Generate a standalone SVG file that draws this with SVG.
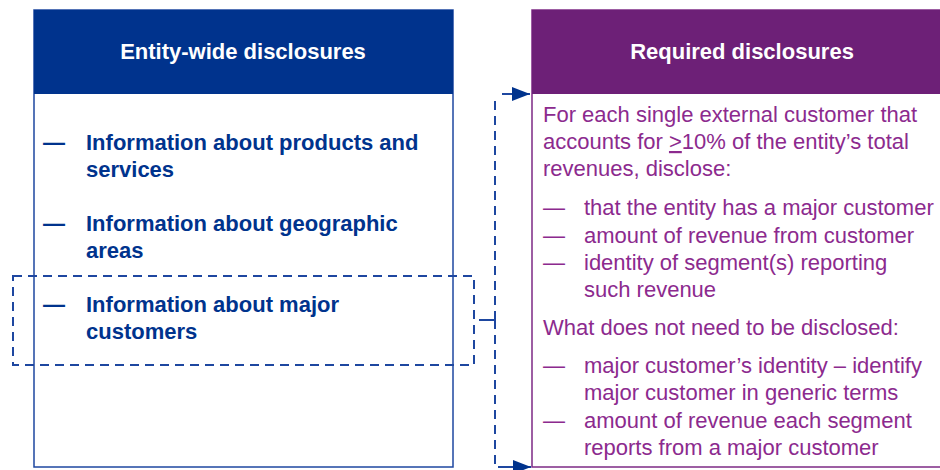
<svg xmlns="http://www.w3.org/2000/svg" width="940" height="470" viewBox="0 0 940 470">
<defs>
<style>
.hdr{font-family:"Liberation Sans",Arial,sans-serif;font-size:22px;font-weight:bold;fill:#ffffff;text-anchor:middle}
.lt{font-family:"Liberation Sans",Arial,sans-serif;font-size:22px;font-weight:bold;fill:#00338D}
.rt{font-family:"Liberation Sans",Arial,sans-serif;font-size:22px;fill:#8C2A8E}
.conn{fill:none;stroke:#1E47A0;stroke-width:2;stroke-dasharray:9 6}
.solid{fill:none;stroke:#1E47A0;stroke-width:2}
</style>
<marker id="ah" viewBox="0 0 18 14" refX="18" refY="7" markerWidth="9" markerHeight="7" markerUnits="strokeWidth" orient="auto">
<path d="M0,0 L18,7 L0,14 z" fill="#00338D"/>
</marker>
</defs>
<rect width="940" height="470" fill="#ffffff"/>
<g id="entity-wide">
<rect x="34" y="10" width="419" height="457" fill="#ffffff" stroke="#1E47A0" stroke-width="1.5"/>
<rect x="34" y="10" width="419" height="84" fill="#00338D"/>
<text class="hdr" x="243" y="59">Entity-wide disclosures</text>
<text class="lt" x="43" y="150">—</text>
<text class="lt" x="86" y="150">Information about products and</text>
<text class="lt" x="86" y="177">services</text>
<text class="lt" x="43" y="231">—</text>
<text class="lt" x="86" y="231">Information about geographic</text>
<text class="lt" x="86" y="258">areas</text>
<text class="lt" x="43" y="312">—</text>
<text class="lt" x="86" y="312">Information about major</text>
<text class="lt" x="86" y="339">customers</text>
</g>
<g id="required">
<rect x="532" y="10" width="420" height="457" fill="#ffffff" stroke="#7D2A85" stroke-width="1.5"/>
<rect x="532" y="10" width="420" height="84" fill="#6D2077"/>
<text class="hdr" x="742" y="59">Required disclosures</text>
<text class="rt" x="543" y="122">For each single external customer that</text>
<text class="rt" x="543" y="149">accounts for <tspan text-decoration="underline">&gt;</tspan>10% of the entity’s total</text>
<text class="rt" x="543" y="176">revenues, disclose:</text>
<text class="rt" x="543" y="215">—</text>
<text class="rt" x="584" y="215">that the entity has a major customer</text>
<text class="rt" x="543" y="243">—</text>
<text class="rt" x="584" y="243">amount of revenue from customer</text>
<text class="rt" x="543" y="270">—</text>
<text class="rt" x="584" y="270">identity of segment(s) reporting</text>
<text class="rt" x="584" y="297">such revenue</text>
<text class="rt" x="543" y="335">What does not need to be disclosed:</text>
<text class="rt" x="543" y="373">—</text>
<text class="rt" x="584" y="373">major customer’s identity – identify</text>
<text class="rt" x="584" y="400">major customer in generic terms</text>
<text class="rt" x="543" y="428">—</text>
<text class="rt" x="584" y="428">amount of revenue each segment</text>
<text class="rt" x="584" y="455">reports from a major customer</text>
</g>
<g id="connectors">
<rect class="conn" x="13" y="276" width="461" height="89"/>
<path class="solid" d="M479,320 H494"/>
<path class="conn" d="M495,320 V97"/>
<path class="solid" d="M502,94 H530" marker-end="url(#ah)"/>
<path class="conn" d="M495,320 V467 H504"/>
<path class="solid" d="M504,467 H531" marker-end="url(#ah)"/>
</g>
</svg>
